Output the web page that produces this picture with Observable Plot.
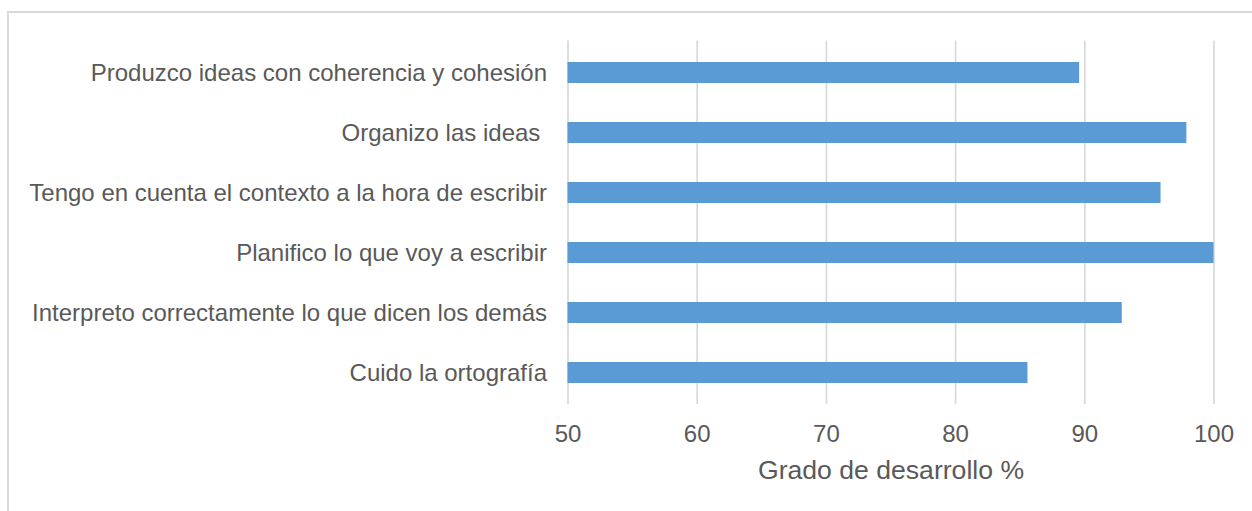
<!DOCTYPE html>
<html>
<head>
<meta charset="utf-8">
<script src="https://cdn.jsdelivr.net/npm/d3@7"></script>
<script src="https://cdn.jsdelivr.net/npm/@observablehq/plot@0.6"></script>
<style>
  html, body { margin: 0; padding: 0; background: #fff; overflow: hidden; }
  #wrap { position: relative; width: 1252px; height: 511px; overflow: hidden; }
  #border { position: absolute; left: 7px; top: 11px; width: 1300px; height: 600px; border: 2px solid #d9d9d9; box-sizing: border-box; }
  #chart { position: absolute; left: 0; top: 0; }
</style>
</head>
<body>
<div id="wrap">
  <div id="border"></div>
  <div id="chart"></div>
</div>
<script>
const categories = [
  "Produzco ideas con coherencia y cohesión",
  "Organizo las ideas\u00a0",
  "Tengo en cuenta el contexto a la hora de escribir",
  "Planifico lo que voy a escribir",
  "Interpreto correctamente lo que dicen los demás",
  "Cuido la ortografía"
];
const values = [89.6, 97.9, 95.9, 100, 92.9, 85.6];
const xTicks = [50, 60, 70, 80, 90, 100];
const xTitle = "Grado de desarrollo %";

const data = categories.map((c, i) => ({category: c, value: values[i]}));

const chart = Plot.plot({
  width: 1252,
  height: 511,
  marginLeft: 567.5,
  marginRight: 38.5,
  marginTop: 40.5,
  marginBottom: 107,
  style: {fontFamily: "'Liberation Sans', Arial, sans-serif", color: "#595959", background: "transparent"},
  x: {domain: [50, 100], ticks: xTicks},
  y: {domain: categories, paddingInner: 0.65, paddingOuter: 0.325},
  marks: [
    Plot.ruleX(xTicks, {x: d => d, stroke: "#d9d9d9", strokeWidth: 1.7}),
    Plot.barX(data, {x1: 50, x2: "value", y: "category", fill: "#5b9bd5"}),
    Plot.axisX({ticks: xTicks, tickSize: 0, tickPadding: 20, fontSize: 24, fill: "#595959", label: null, tickFormat: d => String(d)}),
    Plot.axisY({tickSize: 0, tickPadding: 21, fontSize: 24, fill: "#595959", label: null}),
    Plot.text([xTitle], {text: d => d, frameAnchor: "bottom", dy: 66, fontSize: 26.6, fill: "#595959", lineAnchor: "middle"})
  ]
});
document.getElementById("chart").appendChild(chart);
</script>
</body>
</html>
